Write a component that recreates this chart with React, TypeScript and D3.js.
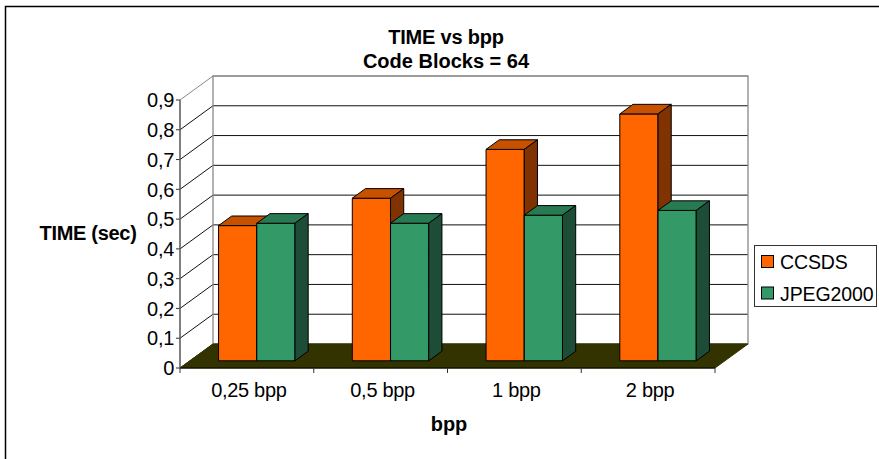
import React from 'react';
import * as d3 from 'd3';

const categories = ['0,25 bpp', '0,5 bpp', '1 bpp', '2 bpp'];
const seriesNames = ['CCSDS', 'JPEG2000'];
const ccsds = [0.454, 0.546, 0.71, 0.829];
const jpeg2000 = [0.462, 0.462, 0.489, 0.505];
const yTicks = [0, 0.1, 0.2, 0.3, 0.4, 0.5, 0.6, 0.7, 0.8, 0.9];
const yTickLabels = ['0', '0,1', '0,2', '0,3', '0,4', '0,5', '0,6', '0,7', '0,8', '0,9'];
const titleLines = ['TIME vs bpp', 'Code Blocks = 64'];

const colors = {
  CCSDS: { front: '#FF6600', top: '#C85100', side: '#803300' },
  JPEG2000: { front: '#339966', top: '#287A52', side: '#1E4D37' },
};

const FONT = '"Liberation Sans", Arial, sans-serif';

export default function App() {
  const W = 879, H = 459;
  const x = d3.scaleBand<string>().domain(categories).range([180, 715])
    .paddingInner(1.5 / 3.5).paddingOuter(0.75 / 3.5);
  const sub = d3.scaleBand<string>().domain(seriesNames).range([0, x.bandwidth()]);
  const y = d3.scaleLinear().domain([0, 0.9]).range([368, 100]);
  const DX = 33, DY = -24;
  const d0 = 0.3, d1 = 0.7;
  const [xl, xr] = x.range();
  const y0 = y(0), yTop = y(0.9);
  const data = [ccsds, jpeg2000];
  const pts = (a: number[][]) => a.map(p => p.join(',')).join(' ');

  const bars: any[] = [];
  categories.forEach((c, i) => {
    seriesNames.forEach((s, j) => {
      const v = data[j][i];
      const col = (colors as any)[s];
      const bw = sub.bandwidth();
      const fx0 = (x(c) as number) + (sub(s) as number) + d0 * DX;
      const fx1 = fx0 + bw;
      const ft = y(v) + d0 * DY;
      const fb = y0 + d0 * DY;
      const ddx = (d1 - d0) * DX, ddy = (d1 - d0) * DY;
      bars.push(
        <g key={c + s} stroke="#000" strokeWidth={1} strokeLinejoin="round">
          <rect x={fx0} y={ft} width={bw} height={fb - ft} fill={col.front} />
          <polygon points={pts([[fx0, ft], [fx1, ft], [fx1 + ddx, ft + ddy], [fx0 + ddx, ft + ddy]])} fill={col.top} />
          <polygon points={pts([[fx1, ft], [fx1 + ddx, ft + ddy], [fx1 + ddx, fb + ddy], [fx1, fb]])} fill={col.side} />
        </g>
      );
    });
  });

  return (
    <svg width={W} height={H} style={{ position: 'absolute', left: 0, top: 0 }} fontFamily={FONT}>
      <rect x={0} y={0} width={W} height={H} fill="#fff" />
      <rect x={5.5} y={6.5} width={W + 10} height={H + 10} fill="none" stroke="#000" strokeWidth={1.5} />
      {/* titles */}
      <text x={446} y={44} textAnchor="middle" fontWeight="bold" fontSize={20} letterSpacing={-0.2}>{titleLines[0]}</text>
      <text x={446} y={68} textAnchor="middle" fontWeight="bold" fontSize={20} letterSpacing={0}>{titleLines[1]}</text>

      {/* walls */}
      <polygon points={pts([[xl, y0], [xl + DX, y0 + DY], [xl + DX, yTop + DY], [xl, yTop]])} fill="#fff" />
      <rect x={xl + DX} y={yTop + DY} width={xr - xl} height={y0 - yTop} fill="#fff" />
      {yTicks.map((t, k) => (
        <g key={'g' + k}>
          <line x1={xl + DX} x2={xr + DX} y1={y(t) + DY} y2={y(t) + DY} stroke={k === yTicks.length - 1 ? '#888' : '#111'} strokeWidth={1} />
          <line x1={xl} x2={xl + DX} y1={y(t)} y2={y(t) + DY} stroke={k === yTicks.length - 1 ? '#888' : '#111'} strokeWidth={1} />
          <line x1={xl - 4} x2={xl} y1={y(t)} y2={y(t)} stroke="#333" strokeWidth={1} />
          <text x={174} y={y(t)} dy="0.36em" textAnchor="end" fontSize={20} letterSpacing={-0.3}>{yTickLabels[k]}</text>
        </g>
      ))}
      <rect x={xl + DX} y={yTop + DY} width={xr - xl} height={y0 - yTop} fill="none" stroke="#888" strokeWidth={1.3} />
      {/* floor */}
      <polygon points={pts([[xl, y0], [xr, y0], [xr + DX, y0 + DY], [xl + DX, y0 + DY]])} fill="#333300" stroke="#333300" strokeWidth={1} />
      {/* axes */}
      <line x1={xl} x2={xl} y1={yTop} y2={y0} stroke="#555" strokeWidth={1.5} />
      <line x1={xl} x2={xr} y1={y0} y2={y0} stroke="#000" strokeWidth={1.2} />
      {[0, 1, 2, 3, 4].map(k => {
        const tx = xl + k * x.step();
        return <line key={'ct' + k} x1={tx} x2={tx} y1={y0} y2={y0 + 5} stroke="#333" strokeWidth={1} />;
      })}

      {bars}

      {/* category labels */}
      {categories.map(c => (
        <text key={'cl' + c} x={(x(c) as number) + x.bandwidth() / 2 + 2} y={397} textAnchor="middle" fontSize={20} letterSpacing={-0.3}>{c}</text>
      ))}
      <text x={449} y={431} textAnchor="middle" fontWeight="bold" fontSize={20} letterSpacing={0}>bpp</text>
      <text x={88} y={240} textAnchor="middle" fontWeight="bold" fontSize={20} letterSpacing={-0.3}>TIME (sec)</text>

      {/* legend */}
      <rect x={754.5} y={245.5} width={122} height={61} fill="#fff" stroke="#333" strokeWidth={1} />
      {seriesNames.map((s, k) => (
        <g key={'lg' + s}>
          <rect x={761.5} y={255.5 + k * 31.5} width={12} height={12} fill={(colors as any)[s].front} stroke="#000" strokeWidth={1} />
          <text x={780} y={262 + k * 31.5} dy="0.36em" fontSize={19.5} letterSpacing={-0.1}>{s}</text>
        </g>
      ))}
    </svg>
  );
}
